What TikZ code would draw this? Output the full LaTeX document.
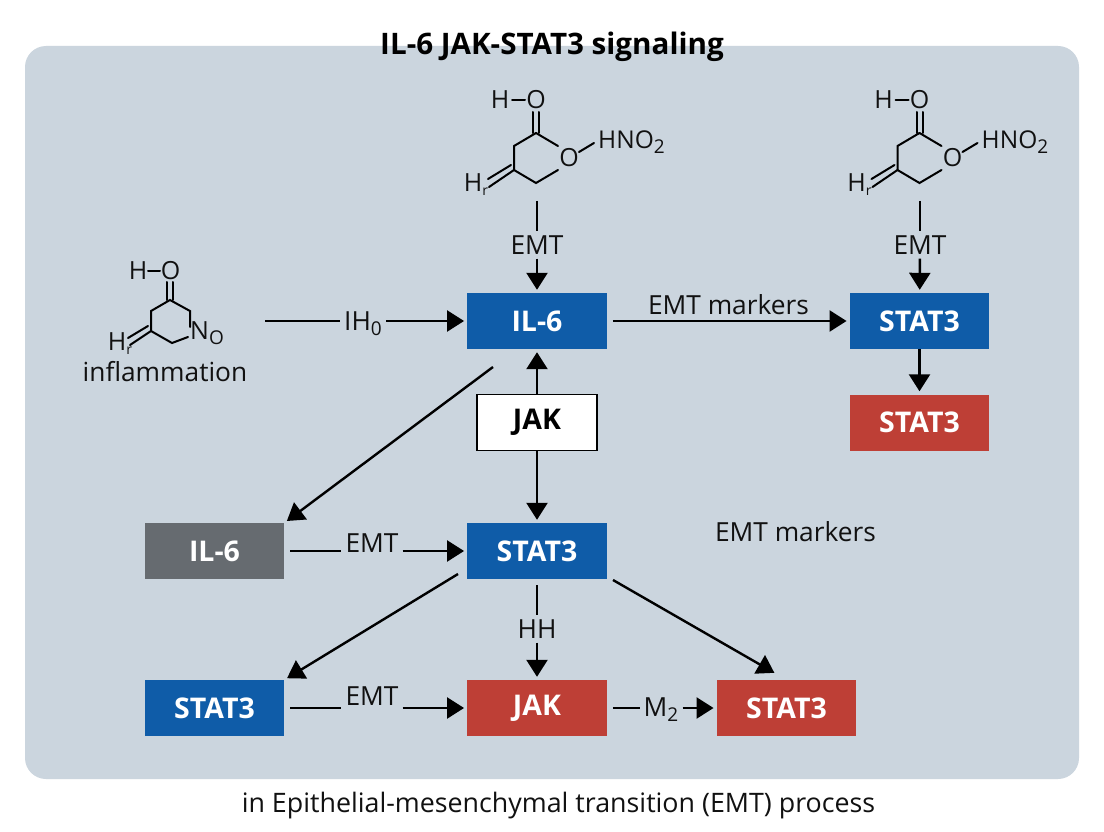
\documentclass[tikz,border=0pt]{standalone}
\usepackage{fontspec}
\setmainfont{Open Sans}
\usetikzlibrary{arrows.meta}
\definecolor{panelc}{HTML}{CBD5DE}
\definecolor{bluec}{HTML}{0F5CA8}
\definecolor{redc}{HTML}{BE3F36}
\definecolor{greyc}{HTML}{666B70}
\definecolor{inkc}{HTML}{111111}
\tikzset{
  x=1pt,y=-1pt,
  box/.style={minimum width=139.5pt,minimum height=56pt,inner sep=0pt,font=\fontsize{28.5}{30}\selectfont\bfseries,text=white},
  bluebox/.style={box,fill=bluec},
  redbox/.style={box,fill=redc},
  greybox/.style={box,fill=greyc},
  whitebox/.style={box,minimum width=120pt,fill=white,draw=black,line width=1.6pt,text=black},
  lab/.style={font=\fontsize{26.3}{28}\selectfont,text=inkc,inner sep=4pt},
  atom/.style={font=\fontsize{25}{28}\selectfont,text=inkc,inner sep=0pt},
  con/.style={draw=black,line width=2.4pt},
  arr/.style={con,-{Triangle[length=17pt,width=21pt]},shorten >=3pt},
  bond/.style={draw=black,line width=2pt,line cap=round}
}
\newcommand{\subsc}[1]{\raisebox{-5pt}{\fontsize{19}{19}\selectfont #1}}
\begin{document}
\begin{tikzpicture}
\useasboundingbox (0,0) rectangle (1104,832);
\fill[white] (0,0) rectangle (1104,832);
\fill[panelc,rounded corners=21pt] (25,46) rectangle (1079,779);
\node[font=\fontsize{29.6}{33}\selectfont\bfseries,text=black,inner sep=0pt] (title) at (552,47) {IL-6 JAK-STAT3 signaling};
\node[font=\fontsize{26.8}{28}\selectfont,text=inkc,inner sep=0pt] (caption) at (558.5,806) {in Epithelial-mesenchymal transition (EMT) process};

% boxes
\node[bluebox] (il6top) at (537,321) {IL-6};
\node[bluebox] (stat3top) at (919.5,321) {STAT3};
\node[redbox] (stat3red) at (919.5,422.5) {STAT3};
\node[whitebox] (jak) at (537,422.5) {JAK};
\node[greybox] (il6grey) at (214.5,551) {IL-6};
\node[bluebox] (stat3mid) at (537,551) {STAT3};
\node[bluebox] (stat3low) at (214.5,708) {STAT3};
\node[redbox] (jaklow) at (537,708) {JAK};
\node[redbox] (stat3right) at (786.5,708) {STAT3};

% molecules
\foreach \dx/\nm in {0/a,383.5/b}{
  \begin{scope}[xshift=\dx pt]
    \node[atom] (h\nm) at (500,100) {H};
    \node[atom] (o\nm) at (536,100) {O};
    \node[atom] (r\nm) at (569,158) {O};
    \node[atom,anchor=west,font=\fontsize{24.5}{28}\selectfont] (n\nm) at (598,142) {HNO\subsc{2}};
    \node[atom] (s\nm) at (476,185) {H\raisebox{-4pt}{\fontsize{14}{14}\selectfont r}};
    \draw[bond] (512,100) -- (525,100);
    \draw[bond] (533,112) -- (533,133);
    \draw[bond] (539,112) -- (539,133);
    \draw[bond] (536,133) -- (514,146) -- (514,170) -- (536,183) -- (558,170);
    \draw[bond] (536,133) -- (558,146);
    \draw[bond] (579,152) -- (594,143);
    \draw[bond] (514,170) -- (489,187);
    \draw[bond] (511,165) -- (488,179);
  \end{scope}
}
\node[atom] (hc) at (138,271) {H};
\node[atom] (oc) at (170.5,271) {O};
\node[atom,anchor=west] (nc) at (190,333) {N\subsc{O}};
\node[atom] (sc) at (120,344) {H\raisebox{-4pt}{\fontsize{14}{14}\selectfont r}};
\draw[bond] (148,271) -- (160,271);
\draw[bond] (167,282) -- (167,300);
\draw[bond] (173,282) -- (173,300);
\draw[bond] (190,327) -- (190,311) -- (170,300) -- (151,311) -- (151,331) -- (172,343) -- (188,337);
\draw[bond] (151,331) -- (130,345);
\draw[bond] (148,326) -- (128,338);
\node[font=\fontsize{26.3}{28}\selectfont,text=inkc,inner sep=0pt] (inflam) at (165,372) {inflammation};

% free ends
\coordinate (c1) at (537,201);
\coordinate (c2) at (920,201);
\coordinate (c3) at (265,321);
\coordinate (c4) at (493,367);
\coordinate (c5) at (458,574);
\coordinate (c6) at (613,580);
\coordinate (c7) at (537,585);

% labels
\node[lab] (emt1) at (537,245) {EMT};
\node[lab] (emt2) at (920,245) {EMT};
\node[lab] (ih) at (363,324) {IH\subsc{0}};
\node[lab] (emt3) at (372,543) {EMT};
\node[lab] (emt4) at (372,696) {EMT};
\node[lab] (hh) at (537,629) {HH};
\node[lab] (m2) at (661,710) {M\subsc{2}};
\node[lab,inner sep=0pt] (mark1) at (728.5,305) {EMT markers};
\node[lab,inner sep=0pt] (mark2) at (795.5,532) {EMT markers};

% connectors
\draw[con] (c1) -- (emt1);
\draw[arr] (emt1) -- (il6top);
\draw[con] (c2) -- (emt2);
\draw[arr] (emt2) -- (stat3top);
\draw[con] (c3) -- (ih.west |- c3);
\draw[arr] (ih.east |- c3) -- (il6top.west);
\draw[arr] (il6top.east) ++(6,0) -- (stat3top.west);
\draw[arr] (stat3top) -- (stat3red);
\draw[arr] (jak.north) -- (il6top.south);
\draw[arr] (jak.south) -- (stat3mid.north);
\draw[arr] (c4) -- (il6grey.north east);
\draw[con] (il6grey.east) ++(6,0) -- (emt3.south west |- il6grey.east);
\draw[arr] (emt3.south east |- il6grey.east) -- (stat3mid.west);
\draw[arr] (c5) -- (stat3low.north east);
\draw[con] (stat3low.east) ++(6,0) -- (emt4.south west |- stat3low.east);
\draw[arr] (emt4.south east |- stat3low.east) -- (jaklow.west);
\draw[con] (c7) -- (hh);
\draw[arr] (hh) -- (jaklow);
\draw[con] (jaklow.east) ++(6,0) -- (m2.west |- jaklow.east);
\draw[arr] (m2.east |- jaklow.east) -- (stat3right.west);
\draw[arr,shorten >=14pt] (c6) -- (stat3right.north);
\end{tikzpicture}
\end{document}
